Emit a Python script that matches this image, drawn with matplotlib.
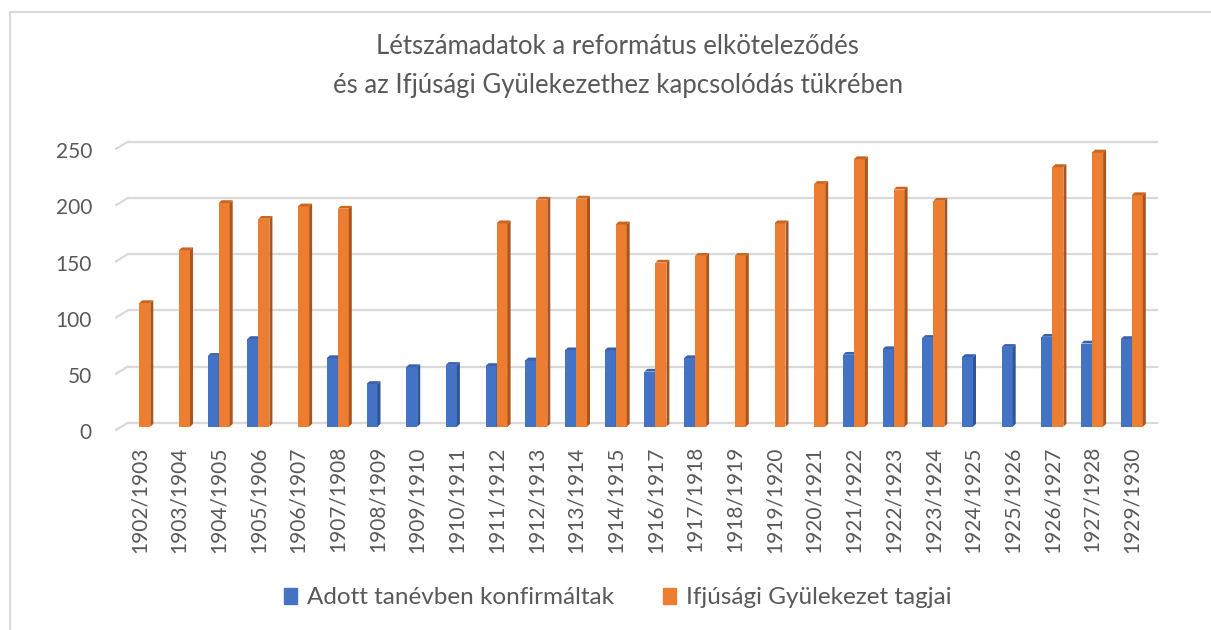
import numpy as np
import matplotlib.pyplot as plt
from matplotlib.patches import Patch, Polygon, Rectangle
from matplotlib.transforms import ScaledTranslation

plt.rcParams['font.family'] = ['Lato', 'DejaVu Sans']

nan = np.nan
tanevek = ['1902/1903', '1903/1904', '1904/1905', '1905/1906', '1906/1907', '1907/1908',
           '1908/1909', '1909/1910', '1910/1911', '1911/1912', '1912/1913', '1913/1914',
           '1914/1915', '1916/1917', '1917/1918', '1918/1919', '1919/1920', '1920/1921',
           '1921/1922', '1922/1923', '1923/1924', '1924/1925', '1925/1926', '1926/1927',
           '1927/1928', '1929/1930']
konfirmaltak = [nan, nan, 63, 78, nan, 61, 38, 53, 55, 54, 59, 68, 68, 49, 61,
                nan, nan, nan, 64, 69, 79, 62, 71, 80, 74, 78]
tagok = [110, 157, 199, 185, 196, 194, nan, nan, nan, 181, 202, 203, 180, 146, 152,
         152, 181, 216, 238, 211, 201, nan, nan, 231, 244, 206]
yticks = [0, 50, 100, 150, 200, 250]

W, H = 1211, 630
fig = plt.figure(figsize=(W / 100, H / 100), dpi=100)

# pixel layout of the plot area
px_left, px_right = 128, 1158
px_zero = 426.7
px_per_unit = 1.124
c0, step = 139.3, 39.7
ymax = 270

ax = fig.add_axes([px_left / W, 1 - px_zero / H,
                   (px_right - px_left) / W, ymax * px_per_unit / H])
ax.set_xlim((px_left - c0) / step, (px_right - c0) / step)
ax.set_ylim(0, ymax)
for s in ax.spines.values():
    s.set_visible(False)

grid_c = '#D9D9D9'
text_c = '#595959'
x0, x1 = ax.get_xlim()
back = 4 / px_per_unit
for v in yticks:
    ax.plot([x0, x1], [v + back, v + back], color=grid_c, lw=1.6, zorder=0)
    ax.plot([x0 - 12 / step, x0], [v - 3.2 / px_per_unit, v + back],
            color=grid_c, lw=1.6, zorder=0, clip_on=False)

w = 11 / step
dx = 3 / step
dy = 2.8 / px_per_unit
x = np.arange(len(tanevek))


def bars3d(xpos, vals, front, side, top):
    for xi, v in zip(xpos, vals):
        if np.isnan(v):
            continue
        ax.bar(xi, v, width=w, align='edge', color=front, zorder=2)
        ax.add_patch(Polygon([(xi + w, 0), (xi + w + dx, dy), (xi + w + dx, v + dy), (xi + w, v)],
                             closed=True, color=side, zorder=2, lw=0))
        ax.add_patch(Polygon([(xi, v), (xi + dx, v + dy), (xi + w + dx, v + dy), (xi + w, v)],
                             closed=True, color=top, zorder=2, lw=0))


bars3d(x - w, konfirmaltak, '#4472C4', '#2F5597', '#3A62AC')
bars3d(x, tagok, '#ED7D31', '#A9561E', '#C96520')

ax.set_yticks(yticks)
ax.set_yticklabels([str(v) for v in yticks])
ax.tick_params(axis='y', length=0, pad=26, labelsize=15, labelcolor=text_c)
for lab in ax.get_yticklabels():
    lab.set_transform(lab.get_transform() + ScaledTranslation(0, -0.045, fig.dpi_scale_trans))

ax.set_xticks(x)
ax.set_xticklabels(tanevek, rotation=90)
ax.tick_params(axis='x', length=0, pad=14, labelsize=15, labelcolor=text_c)

fig.text(0.51, 1 - 47 / H, 'Létszámadatok a református elkötelez\u0151dés',
         ha='center', va='center', fontsize=18.5, color=text_c)
fig.text(0.51, 1 - 86 / H, 'és az Ifjúsági Gyülekezethez kapcsolódás tükrében',
         ha='center', va='center', fontsize=18.5, color=text_c)

handles = [Patch(color='#4472C4', label='Adott tanévben konfirmáltak'),
           Patch(color='#ED7D31', label='Ifjúsági Gyülekezet tagjai')]
fig.legend(handles=handles, loc='center', bbox_to_anchor=(0.51, 1 - 598 / H), ncol=2,
           frameon=False, fontsize=17.5, labelcolor=text_c, handlelength=0.55,
           handleheight=0.6, handletextpad=0.4, columnspacing=2.0)

fig.patches.append(Rectangle((10 / W, -0.1), 1.2, 1.1 - 12 / H, transform=fig.transFigure,
                             fill=False, edgecolor=grid_c, lw=1.5))

fig.savefig('out.png', dpi=100, facecolor='white')
